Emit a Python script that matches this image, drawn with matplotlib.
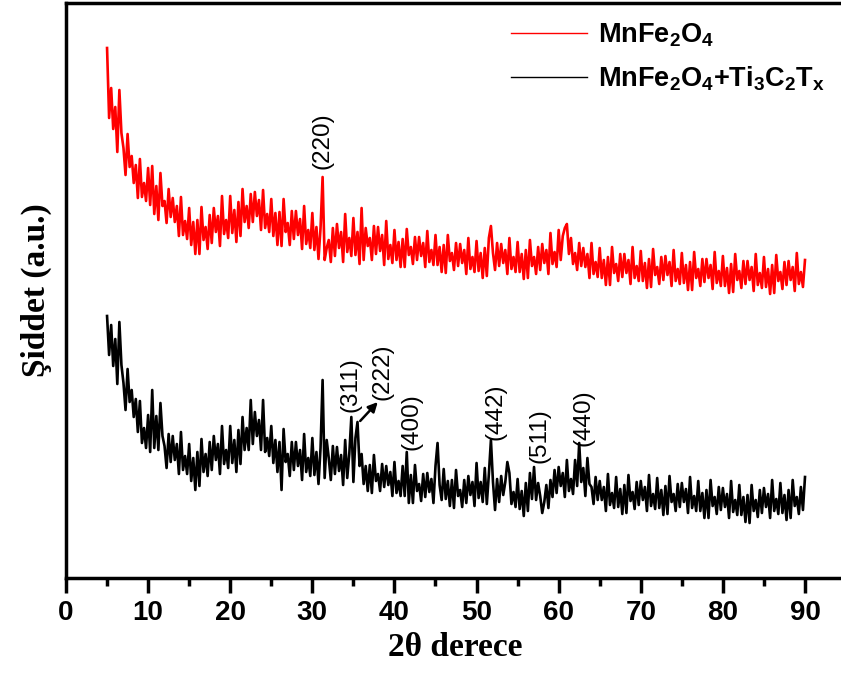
import numpy as np
import matplotlib
matplotlib.use("Agg")
import matplotlib.pyplot as plt

plt.rcParams["mathtext.fontset"] = "custom"
plt.rcParams["mathtext.rm"] = "Liberation Sans:bold"
plt.rcParams["mathtext.it"] = "Liberation Sans:bold"
plt.rcParams["mathtext.bf"] = "Liberation Sans:bold"

# 2-theta grid of the scan (0.25 deg steps, 5..90)
two_theta = np.arange(5, 90.01, 0.25)

# MnFe2O4 (a.u.), 4 points per degree
mnfe = [
    530, 460, 490, 449,  471, 426, 488, 445,  430, 403, 444, 411,  422, 395, 413, 380,
    419, 381, 395, 377,  410, 373, 412, 364,  392, 358, 405, 372,  377, 355, 389, 361,
    380, 356, 372, 342,  381, 343, 357, 339,  370, 333, 356, 324,  358, 324, 371, 338,
    351, 329, 363, 335,  370, 346, 362, 332,  382, 344, 358, 340,  382, 345, 368, 336,
    376, 342, 389, 356,  372, 350, 384, 356,  386, 362, 378, 348,  388, 350, 364, 346,
    379, 342, 365, 333,  366, 332, 379, 346,  355, 333, 367, 339,  367, 343, 359, 329,
    372, 334, 348, 330,  365, 328, 351, 319,  350, 401, 318, 330,  338, 316, 350, 322,
    354, 330, 346, 316,  364, 326, 340, 322,  360, 323, 346, 314,  370, 318, 350, 332,
    340, 318, 352, 324,  351, 327, 343, 313,  357, 319, 333, 315,  348, 318, 336, 311,
    339, 311, 349, 323,  331, 314, 341, 318,  341, 322, 335, 311,  347, 316, 328, 313,
    343, 313, 331, 306,  333, 305, 343, 317,  325, 308, 335, 312,  334, 315, 328, 304,
    340, 309, 321, 306,  337, 307, 325, 300,  330, 302, 340, 352,  325, 308, 335, 312,
    334, 315, 328, 304,  340, 309, 321, 306,  336, 306, 324, 299,  328, 300, 338, 312,
    321, 304, 331, 308,  334, 315, 328, 304,  345, 314, 326, 311,  348, 318, 342, 350,
    354, 324, 340, 314,  325, 308, 335, 312,  330, 311, 324, 300,  335, 304, 316, 301,
    330, 300, 318, 293,  321, 293, 331, 305,  314, 297, 324, 301,  324, 305, 318, 294,
    331, 300, 312, 297,  327, 297, 315, 290,  319, 291, 329, 303,  311, 294, 321, 298,
    322, 303, 316, 292,  328, 297, 309, 294,  325, 295, 313, 288,  316, 288, 326, 300,
    309, 292, 319, 296,  319, 300, 313, 289,  326, 295, 307, 292,  322, 292, 310, 285,
    314, 286, 324, 298,  307, 290, 317, 294,  317, 298, 311, 287,  324, 293, 305, 290,
    321, 291, 309, 284,  313, 285, 323, 297,  306, 289, 316, 293,  317, 298, 311, 287,
    325, 294, 306, 291,  318,
]

# MnFe2O4 + Ti3C2Tx
mnfe_mx = [
    262, 223, 253, 212,  239, 194, 256, 213,  195, 168, 209, 176,  188, 161, 179, 146,
    177, 135, 150, 130,  163, 126, 188, 130,  162, 128, 175, 142,  132, 110, 144, 116,
    142, 118, 134, 104,  146, 108, 122, 104,  134, 97, 120, 88,    126, 92, 139, 106,
    124, 102, 136, 108,  142, 118, 134, 104,  152, 114, 128, 110,  152, 115, 138, 106,
    148, 114, 161, 128,  150, 128, 178, 134,  166, 142, 158, 128,  178, 126, 140, 122,
    152, 115, 138, 106,  136, 88, 149, 116,   124, 102, 136, 108,  136, 112, 128, 98,
    144, 106, 120, 102,  140, 103, 126, 94,   130, 198, 100, 138,  120, 98, 132, 104,
    131, 107, 123, 93,   138, 100, 124, 161,  96, 140, 156, 112,   124, 94, 112, 87,
    113, 85, 123, 97,    104, 87, 114, 91,    112, 93, 106, 82,    116, 85, 97, 82,
    112, 82, 126, 75,    103, 75, 113, 87,    94, 77, 104, 81,     105, 86, 99, 75,
    112, 135, 93, 78,    109, 79, 97, 72,     98, 70, 108, 82,     88, 71, 98, 75,
    102, 83, 96, 72,     115, 80, 96, 76,     110, 74, 104, 138,   96, 68, 99, 76,
    102, 83, 96, 116,    105, 74, 86, 71,     99, 69, 87, 62,      95, 67, 105, 79,
    111, 78, 95, 82,     65, 76, 93, 70,      98, 81, 108, 85,     111, 92, 105, 81,
    118, 87, 99, 84,     118, 92, 135, 96,    110, 82, 120, 94,    91, 74, 101, 78,
    97, 78, 91, 67,      104, 73, 85, 70,     101, 71, 89, 64,     93, 65, 103, 77,
    86, 69, 96, 73,      97, 78, 91, 67,      103, 72, 84, 69,     100, 70, 88, 63,
    92, 64, 102, 76,     84, 67, 94, 71,      95, 76, 89, 65,      101, 70, 82, 67,
    97, 67, 85, 60,      88, 60, 98, 72,      81, 64, 91, 68,      90, 71, 84, 60,
    97, 66, 78, 63,      93, 63, 81, 56,      83, 55, 93, 67,      78, 61, 88, 65,
    90, 71, 84, 60,      98, 67, 79, 64,      95, 65, 83, 58,      88, 60, 98, 72,
    81, 64, 91, 68,      101,
]

# peak labels: text, x, y
red_peaks = [("(220)", 31.2, 437)]
black_peaks = [("(311)", 34.7, 193), ("(222)", 38.6, 206), ("(400)", 42.1, 156),
               ("(442)", 52.3, 166), ("(511)", 57.7, 142), ("(440)", 63.0, 160)]

W, H = 841, 677
fig = plt.figure(figsize=(W / 100, H / 100), dpi=100)
ax = fig.add_axes([66 / W, 1 - 578 / H, 779 / W, 575 / H])

ax.plot(two_theta, mnfe, color="#ff0000", lw=1.9, label=r"MnFe$_2$O$_4$")
ax.plot(two_theta, mnfe_mx, color="black", lw=1.9, label=r"MnFe$_2$O$_4$+Ti$_3$C$_2$T$_x$")

for txt, x, y in red_peaks + black_peaks:
    ax.text(x, y, txt, rotation=90, ha="center", va="center", fontsize=17.5,
            family="Liberation Sans")
ax.annotate("", xy=(38.2, 178), xytext=(35.6, 155),
            arrowprops=dict(arrowstyle="-|>", color="black", lw=1.8, mutation_scale=14))

ax.set_xlim(0, (845 - 66) / (739 / 90))
ax.set_ylim(0, 575)
ax.set_xticks(np.arange(0, 91, 10))
ax.set_xticks(np.arange(5, 90, 10), minor=True)
ax.set_yticks([])
ax.tick_params(axis="x", which="major", direction="out", length=11, width=2.5, pad=5)
ax.tick_params(axis="x", which="minor", direction="out", length=6, width=2.5)
for lab in ax.get_xticklabels():
    lab.set_family("Liberation Sans")
    lab.set_fontweight("bold")
    lab.set_fontsize(20)
for s in ax.spines.values():
    s.set_linewidth(2.5)
ax.spines["right"].set_visible(False)

ax.set_xlabel("2θ derece", family="Liberation Serif", fontweight="bold", fontsize=24, labelpad=4)
ax.set_ylabel("Şiddet (a.u.)", family="Liberation Serif", fontweight="bold", fontsize=24, labelpad=10)

# legend handles drawn thin like the original
leg = ax.legend(loc="upper right", bbox_to_anchor=(1.005, 1.01), frameon=False,
                prop=dict(family="Liberation Sans", weight="bold", size=19.5),
                handlelength=2.8, handletextpad=0.4, labelspacing=0.55)
for h in leg.get_lines():
    h.set_linewidth(1.0)

fig.savefig("out.png", dpi=100)
